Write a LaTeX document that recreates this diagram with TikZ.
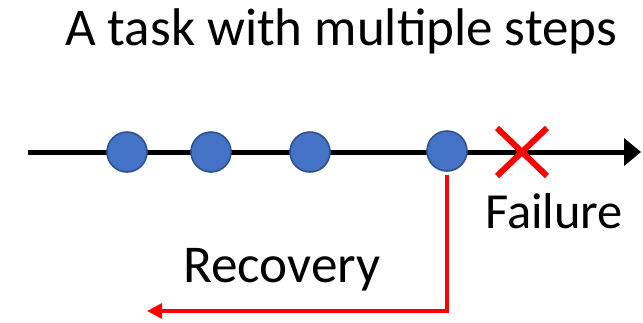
\documentclass[tikz,border=0pt]{standalone}
\usepackage{fontspec}
\setmainfont{Carlito}
\usetikzlibrary{arrows.meta,shapes.misc}
\definecolor{stepfill}{HTML}{4472C4}
\definecolor{stepedge}{HTML}{2F528F}
\definecolor{failred}{HTML}{FF0000}
\begin{document}
\begin{tikzpicture}[x=1pt,y=-1pt,
  stepdot/.style={circle,fill=stepfill,draw=stepedge,line width=1.6pt,minimum size=40pt,inner sep=0pt},
  label/.style={inner sep=0pt,anchor=base west},
  timeline/.style={line width=5pt,-{Triangle[length=17pt,width=27pt]}},
  failmark/.style={cross out,draw=failred,line width=6pt,minimum width=44pt,minimum height=42pt,inner sep=0pt},
  recover/.style={draw=failred,line width=3.2pt,-{Triangle[length=15pt,width=15pt]}}]
\useasboundingbox (0,0) rectangle (643,322);
% timeline
\coordinate (t0) at (28,152);
\coordinate (t1) at (641,152);
\draw[timeline] (t0) -- (t1);
% completed steps
\node[stepdot] (s1) at (127,152) {};
\node[stepdot] (s2) at (211,152) {};
\node[stepdot] (s3) at (310,152) {};
\node[stepdot] (s4) at (447,151) {};
% failure mark
\node[failmark] (fail) at (522,152) {};
% texts
\node[label,font=\fontsize{53}{62}\selectfont] (title) at (65,45) {A task with multiple steps};
\node[label,font=\fontsize{50.5}{60}\selectfont] (failtext) at (485,228) {Failure};
\node[label,font=\fontsize{53.2}{63}\selectfont] (rectext) at (183,282) {Recovery};
% recovery path
\coordinate (back) at (147,311);
\draw[recover] ([yshift=-3pt]s4.south) |- (back);
\end{tikzpicture}
\end{document}
